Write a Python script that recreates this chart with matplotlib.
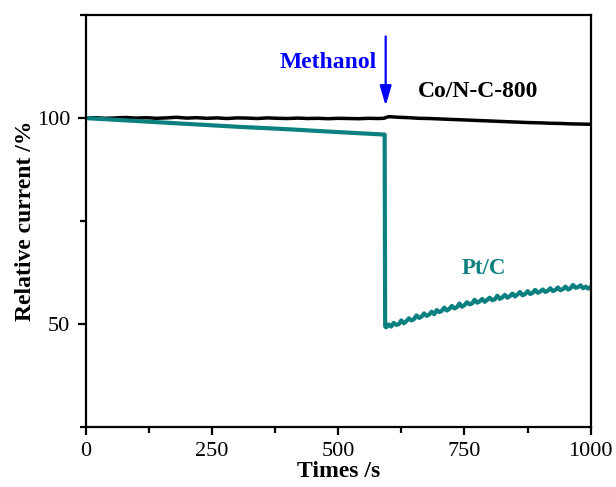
import matplotlib
matplotlib.use("Agg")
import matplotlib.pyplot as plt
from matplotlib.ticker import MultipleLocator

plt.rcParams['font.family'] = ['Liberation Serif', 'DejaVu Serif']

# Co/N-C-800 chronoamperometric response
con_t = [0, 20, 40, 60, 80, 100, 120, 140, 160, 180, 200, 220, 240, 260, 280, 300, 320,
         340, 360, 380, 400, 420, 440, 460, 480, 500, 520, 540, 560, 580, 590,
         600, 620, 640, 660, 680, 700, 720, 740, 760, 780, 800, 820, 840, 860, 880,
         900, 920, 940, 960, 980, 1000]
con_i = [100.0, 100.1, 99.95, 100.05, 100.15, 100.0, 100.1, 99.95, 100.05, 100.2, 100.0,
         100.1, 99.95, 100.05, 99.9, 100.05, 100.0, 99.9, 100.05, 99.95, 99.9, 100.0,
         99.9, 99.95, 99.85, 99.95, 99.9, 99.85, 99.95, 99.9, 99.95,
         100.35, 100.2, 100.1, 99.95, 99.9, 99.8, 99.7, 99.6, 99.5, 99.4, 99.3, 99.2,
         99.1, 99.0, 98.9, 98.85, 98.75, 98.7, 98.6, 98.55, 98.5]

# Pt/C chronoamperometric response
pt_t = [0, 100, 200, 300, 400, 500, 592, 593,
        595, 600, 605, 610, 615, 620, 625, 630, 635, 640, 645, 650, 655, 660, 665, 670,
        675, 680, 685, 690, 695, 700, 705, 710, 715, 720, 725, 730, 735, 740, 745, 750,
        755, 760, 765, 770, 775, 780, 785, 790, 795, 800, 805, 810, 815, 820, 825, 830,
        835, 840, 845, 850, 855, 860, 865, 870, 875, 880, 885, 890, 895, 900, 905, 910,
        915, 920, 925, 930, 935, 940, 945, 950, 955, 960, 965, 970, 975, 980, 985, 990,
        995, 1000]
pt_i = [100.0, 99.3, 98.6, 97.9, 97.3, 96.6, 96.0, 49.5,
        49.2, 49.9, 49.4, 50.3, 49.8, 50.0, 50.9, 50.2, 50.7, 51.4, 50.9, 51.2, 52.1, 51.5,
        51.8, 52.6, 52.0, 52.3, 53.0, 52.4, 53.4, 52.9, 53.2, 54.0, 53.3, 53.7, 54.4, 53.8,
        54.1, 55.0, 54.2, 54.6, 55.3, 54.8, 55.0, 55.9, 55.2, 55.5, 56.1, 55.4, 55.9, 56.4,
        55.8, 56.0, 56.9, 56.1, 56.5, 57.1, 56.4, 56.8, 57.4, 56.7, 57.2, 57.8, 57.0, 57.3,
        58.0, 57.3, 57.6, 58.3, 57.6, 57.9, 58.4, 57.8, 58.1, 58.7, 58.0, 58.3, 58.9, 58.2,
        58.5, 59.1, 58.4, 58.7, 59.5, 58.8, 59.0, 59.4, 58.7, 59.1, 58.6, 59.0]

teal = '#0a8080'

fig = plt.figure(figsize=(6.16, 4.87), dpi=100)
ax = fig.add_axes([0.139, 0.123, 0.82, 0.846])

ax.plot(con_t, con_i, color='black', lw=2.5)
ax.plot(pt_t, pt_i, color=teal, lw=3.0)

ax.set_xlim(0, 1000)
ax.set_ylim(25, 125)
ax.xaxis.set_major_locator(MultipleLocator(250))
ax.xaxis.set_minor_locator(MultipleLocator(125))
ax.yaxis.set_major_locator(MultipleLocator(50))
ax.yaxis.set_minor_locator(MultipleLocator(25))
ax.tick_params(which='major', direction='out', length=6, width=1.6, labelsize=16, pad=5)
ax.tick_params(which='minor', direction='out', length=4, width=1.6)
for s in ax.spines.values():
    s.set_linewidth(1.6)

ax.set_xlabel('Times /s', fontsize=17, fontweight='bold', labelpad=0)
ax.set_ylabel('Relative current /%', fontsize=17, fontweight='bold', labelpad=1)

ax.annotate('', xy=(594, 102.3), xytext=(594, 120.5),
            arrowprops=dict(arrowstyle='-|>,head_length=1.2,head_width=0.35',
                            color='#0000ff', lw=1.6))
ax.text(576, 113.4, 'Methanol', color='#0000ff', fontsize=17, fontweight='bold',
        ha='right', va='center')
ax.text(658, 106.4, 'Co/N-C-800', color='black', fontsize=17, fontweight='bold',
        ha='left', va='center')
ax.text(744, 63.4, 'Pt/C', color=teal, fontsize=16.5, fontweight='bold',
        ha='left', va='center')

fig.savefig('out.png', dpi=100)
